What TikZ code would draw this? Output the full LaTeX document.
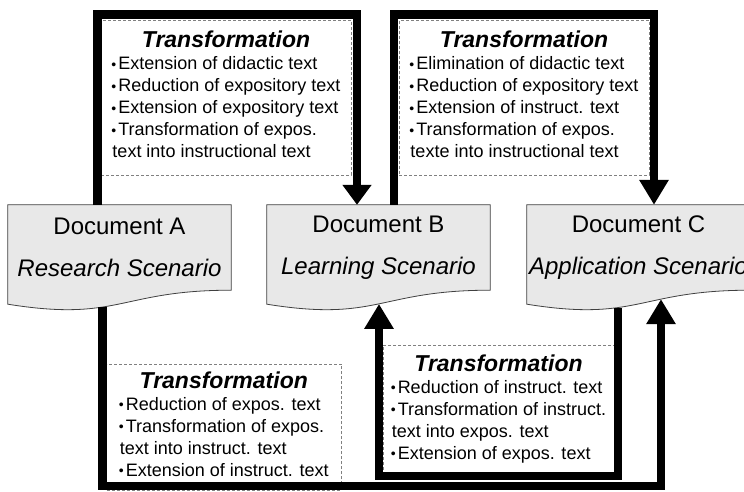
\documentclass[tikz,border=0pt]{standalone}
\usepackage{fontspec}
\setmainfont{Liberation Sans}
\usetikzlibrary{arrows.meta,calc}

\definecolor{docfill}{RGB}{232,232,232}
\definecolor{dashgray}{RGB}{128,128,128}
\newcommand{\blt}{\raisebox{0.6pt}{\fontsize{14}{14}\selectfont\textbullet}\hspace{2pt}}
\newcommand{\ttl}{{\fontsize{23}{22}\selectfont\bfseries\itshape Transformation}}
\pgfdeclarelayer{bg}
\pgfsetlayers{bg,main}

\tikzset{
  doctext/.style={minimum width=223pt, minimum height=85pt, inner sep=0pt, align=center, font=\fontsize{24}{42}\selectfont},
  docline/.style={draw=black!75, line width=0.8pt, fill=docfill},
  listbox/.style={draw=dashgray, dash pattern=on 3pt off 2pt, line width=0.8pt, inner sep=0pt, font=\fontsize{18}{22}\selectfont},
  flow/.style={line width=8.5pt, line join=miter, -{Triangle[length=#1,width=28pt]}},
  flow/.default=25pt
}

\begin{document}
\begin{tikzpicture}[x=1pt,y=1pt]
  \useasboundingbox (0,0) rectangle (744,492);

  %the three documents
  \node[doctext] (docA) at (119.5,244.5) {Document A\\\textit{Research Scenario}};
  \node[doctext] (docB) at (378.5,244.5) {Document B\\\textit{Learning Scenario}};
  \node[doctext] (docC) at (638.5,244.5) {Document C\\\textit{Application Scenario}};

  %document outlines with the wavy bottom, drawn behind the text
  \begin{pgfonlayer}{bg}
    \draw[docline] (docA.north west) -- (docA.north east) -- (docA.south east)
      .. controls (docA.south) and ($(docA.south)+(0,-32)$) .. ($(docA.south west)+(0,-14)$)
      coordinate[pos=0.6] (docA-out) -- cycle;
    \draw[docline] (docB.north west) -- (docB.north east) -- (docB.south east)
      .. controls (docB.south) and ($(docB.south)+(0,-32)$) .. ($(docB.south west)+(0,-14)$)
      coordinate[pos=0.5] (docB-in) -- cycle;
    \draw[docline] (docC.north west) -- (docC.north east) -- (docC.south east)
      .. controls (docC.south) and ($(docC.south)+(0,-32)$) .. ($(docC.south west)+(0,-14)$)
      coordinate[pos=0.37] (docC-in) coordinate[pos=0.62] (docC-out) -- cycle;
  \end{pgfonlayer}

  %transformation boxes
  \node[listbox, minimum width=250pt, minimum height=154.5pt] (trAB) at (226,394.25) {%
    \begin{tabular}{@{}l@{}}
      \multicolumn{1}{@{}c@{}}{\ttl}\\
      \blt Extension of didactic text\\
      \blt Reduction of expository text\\
      \blt Extension of expository text\\
      \blt Transformation of expos.\\
      \hspace{1pt}text into instructional text
    \end{tabular}};
  \node[listbox, minimum width=250pt, minimum height=154.5pt] (trBC) at (524,394.25) {%
    \begin{tabular}{@{}l@{}}
      \multicolumn{1}{@{}c@{}}{\ttl}\\
      \blt Elimination of didactic text\\
      \blt Reduction of expository text\\
      \blt Extension of instruct. text\\
      \blt Transformation of expos.\\
      \hspace{1pt}texte into instructional text
    \end{tabular}};
  \node[listbox, minimum width=234.5pt, minimum height=126pt] (trAC) at (223.75,65) {%
    \begin{tabular}{@{}l@{}}
      \multicolumn{1}{@{}c@{}}{\ttl}\\
      \blt Reduction of expos. text\\
      \blt Transformation of expos.\\
      \hspace{1pt}text into instruct. text\\
      \blt Extension of instruct. text
    \end{tabular}};
  \node[listbox, minimum width=231pt, minimum height=131pt] (trCB) at (498.5,81.5) {%
    \begin{tabular}{@{}l@{}}
      \multicolumn{1}{@{}c@{}}{\ttl}\\
      \blt Reduction of instruct. text\\
      \blt Transformation of instruct.\\
      \hspace{1pt}text into expos. text\\
      \blt Extension of expos. text
    \end{tabular}};

  %thick connectors
  \coordinate (ab1) at (97.5,477.5);
  \coordinate (ab2) at (357,477.5);
  \coordinate (bc1) at (394,477.5);
  \coordinate (bc2) at (654,477.5);
  \coordinate (cb1) at (618,16);
  \coordinate (cb2) at (379,16);
  \coordinate (ac1) at (102.5,6);
  \coordinate (ac2) at (661,6);

  \draw[flow=20pt] (docA.north -| ab1) -- (ab1) -- (ab2) -- (docB.north -| ab2);
  \draw[flow] (docB.north -| bc1) -- (bc1) -- (bc2) -- (docC.north -| bc2);
  \draw[flow] (docC-out) -- (docC-out |- cb1) -- (cb2) -- (cb2 |- docB-in);
  \draw[flow] (docA-out) -- (docA-out |- ac1) -- (ac2) -- (ac2 |- docC-in);
\end{tikzpicture}
\end{document}
